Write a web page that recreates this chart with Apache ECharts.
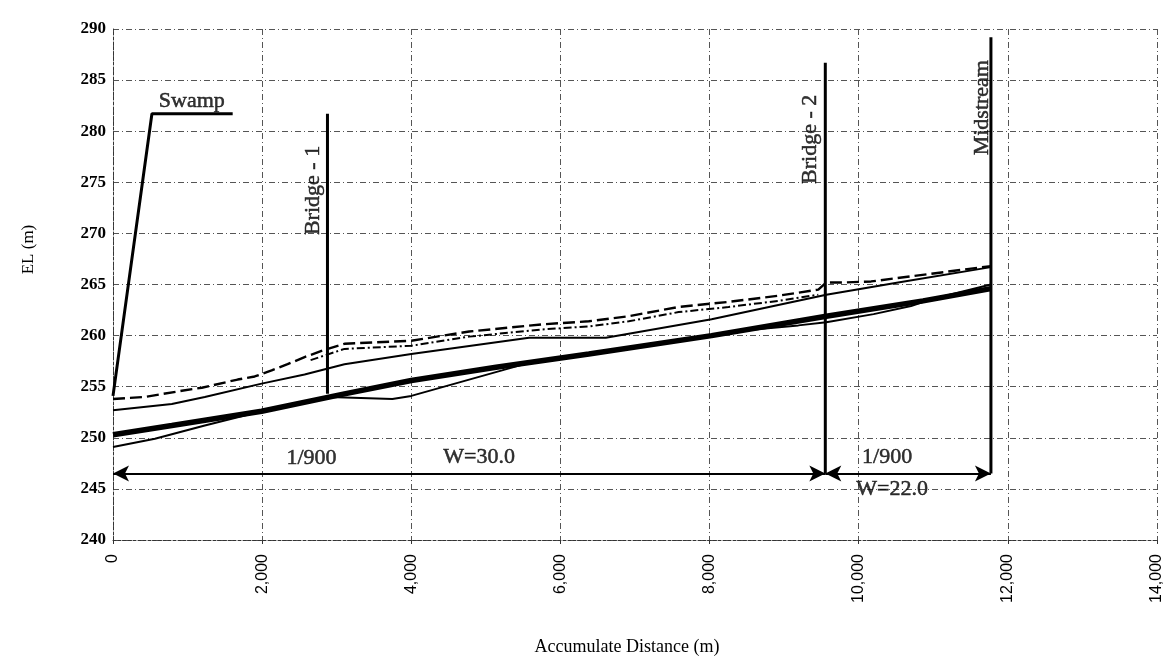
<!DOCTYPE html>
<html>
<head>
<meta charset="utf-8">
<script src="https://cdn.jsdelivr.net/npm/echarts@6/dist/echarts.min.js"></script>
<style>
  html, body { margin: 0; padding: 0; background: #fff; }
  #chart { width: 1165px; height: 661px; }
</style>
</head>
<body>
<div id="chart"></div>
<script>
// profile lines, [distance (m), elevation (m)]
const waterDashed = [[0, 253.8], [428, 254.0], [923, 254.6], [1191, 254.9], [1672, 255.7], [1900, 256.0],
  [2127, 256.6], [2341, 257.2], [2569, 257.9], [2796, 258.5], [3104, 259.2], [4000, 259.5], [4776, 260.4],
  [5753, 261.1], [6381, 261.4], [6916, 261.9], [7585, 262.8], [8254, 263.3], [8923, 263.9], [9458, 264.5],
  [9565, 265.2], [9819, 265.2], [10167, 265.3], [11773, 266.8]]
const waterDashDot = [[2650, 257.6], [3104, 258.7], [4000, 259.0], [4776, 259.9], [5753, 260.6], [6381, 260.9],
  [6916, 261.4], [7585, 262.3], [8254, 262.8], [8923, 263.4], [9458, 264.0]]
const waterSolid = [[0, 252.7], [789, 253.3], [1231, 254.0], [1993, 255.3], [2569, 256.2], [3104, 257.2],
  [4000, 258.2], [5579, 259.8], [6609, 259.8], [8027, 261.6], [9565, 264.0], [10529, 265.2], [11773, 266.7]]
const bedDesign = [[0, 250.3], [789, 251.2], [1993, 252.6], [3104, 254.3], [4000, 255.6], [5137, 256.9],
  [6381, 258.2], [8027, 260.0], [9565, 261.9], [10863, 263.4], [11773, 264.6]]
const bedLowest = [[0, 249.1], [562, 249.9], [1231, 251.2], [1993, 252.6], [2903, 254.0], [3746, 253.8],
  [4000, 254.1], [5217, 256.6], [5600, 257.4], [8600, 260.6], [9191, 261.0], [9565, 261.3], [10200, 262.1],
  [10702, 262.9], [10950, 263.5], [11773, 265.0]]

const swamp = [[0, 254.1], [522, 281.7], [1605, 281.7]]
const bridge1 = [[2876, 254.3], [2876, 281.7]]
const bridge2 = [[9552, 246.5], [9552, 286.7]]
const midstream = [[11773, 246.5], [11773, 289.2]]

// dimension arrows at the bottom
const dimY = 246.5
const dimStops = [0, 9552, 11773]

// annotations: [x, y, text, rotate]
const notes = [
  [1057, 282.9, 'Swamp', 0],
  [2690, 274.2, 'Bridge - 1', 90],
  [9350, 279.2, 'Bridge - 2', 90],
  [11660, 282.3, 'Midstream', 90],
  [2662, 248.0, '1/900', 0],
  [4910, 248.1, 'W=30.0', 0],
  [10381, 248.1, '1/900', 0],
  [10448, 245.0, 'W=22.0', 0]
]

const serif = '"Liberation Serif", "DejaVu Serif", serif'
const ink = '#000'

function lineSeries (name, data, width, type) {
  return {
    name: name,
    type: 'line',
    data: data,
    symbol: 'none',
    silent: true,
    lineStyle: {color: ink, width: width, type: type || 'solid'},
    z: 3
  }
}

const chart = echarts.init(document.getElementById('chart'))

const option = {
  animation: false,
  backgroundColor: '#fff',
  grid: {left: 113, right: 5, top: 29, bottom: 119},
  xAxis: {
    type: 'value',
    min: 0,
    max: 14000,
    interval: 2000,
    name: 'Accumulate Distance (m)',
    nameLocation: 'middle',
    nameGap: 98,
    nameTextStyle: {fontFamily: serif, fontSize: 18, color: ink, padding: [0, 16, 0, 0]},
    axisLine: {show: true, lineStyle: {color: '#333', type: [3, 2], width: 1}},
    axisTick: {show: true, length: 4, lineStyle: {color: '#333'}},
    axisLabel: {
      rotate: 90,
      margin: 14,
      fontFamily: '"Liberation Sans", Arial, sans-serif',
      fontSize: 16,
      color: ink,
      formatter: v => v.toLocaleString('en-US')
    },
    splitLine: {show: true, lineStyle: {color: '#555', type: [6, 3, 1, 3], width: 1}}
  },
  yAxis: {
    type: 'value',
    min: 240,
    max: 290,
    interval: 5,
    name: 'EL (m)',
    nameLocation: 'middle',
    nameGap: 76,
    nameRotate: 90,
    nameTextStyle: {fontFamily: serif, fontSize: 17, color: ink, padding: [0, 0, 0, 70]},
    axisLine: {show: true, lineStyle: {color: '#333', type: [3, 2], width: 1}},
    axisTick: {show: false},
    axisLabel: {margin: 7, fontFamily: serif, fontWeight: 'bold', fontSize: 17, color: ink},
    splitLine: {show: true, lineStyle: {color: '#555', type: [6, 3, 1, 3], width: 1}}
  },
  series: [
    lineSeries('water dashed', waterDashed, 2.4, [12, 5]),
    lineSeries('water dash-dot', waterDashDot, 2, [8, 3, 2, 3]),
    lineSeries('water solid', waterSolid, 2),
    lineSeries('bed design', bedDesign, 5.5),
    lineSeries('bed lowest', bedLowest, 2),
    lineSeries('swamp', swamp, 3),
    lineSeries('bridge 1', bridge1, 3),
    lineSeries('bridge 2', bridge2, 3),
    lineSeries('midstream', midstream, 3),
    {
      name: 'dimension',
      type: 'line',
      data: [],
      silent: true,
      markLine: {
        silent: true,
        animation: false,
        symbol: ['arrow', 'arrow'],
        symbolSize: [12, 16],
        label: {show: false},
        lineStyle: {color: ink, width: 2, type: 'solid'},
        data: dimStops.slice(1).map((x, i) => [
          {coord: [dimStops[i], dimY]},
          {coord: [x, dimY]}
        ])
      }
    },
    {
      name: 'notes',
      type: 'scatter',
      symbolSize: 0,
      silent: true,
      z: 5,
      data: notes.map(n => ({
        value: [n[0], n[1]],
        name: n[2],
        label: {rotate: n[3]}
      })),
      label: {
        show: true,
        position: 'inside',
        formatter: '{b}',
        fontFamily: serif,
        fontSize: 22,
        color: ink,
        textBorderColor: ink,
        textBorderWidth: 0.5
      }
    }
  ]
}

chart.setOption(option)
</script>
</body>
</html>
